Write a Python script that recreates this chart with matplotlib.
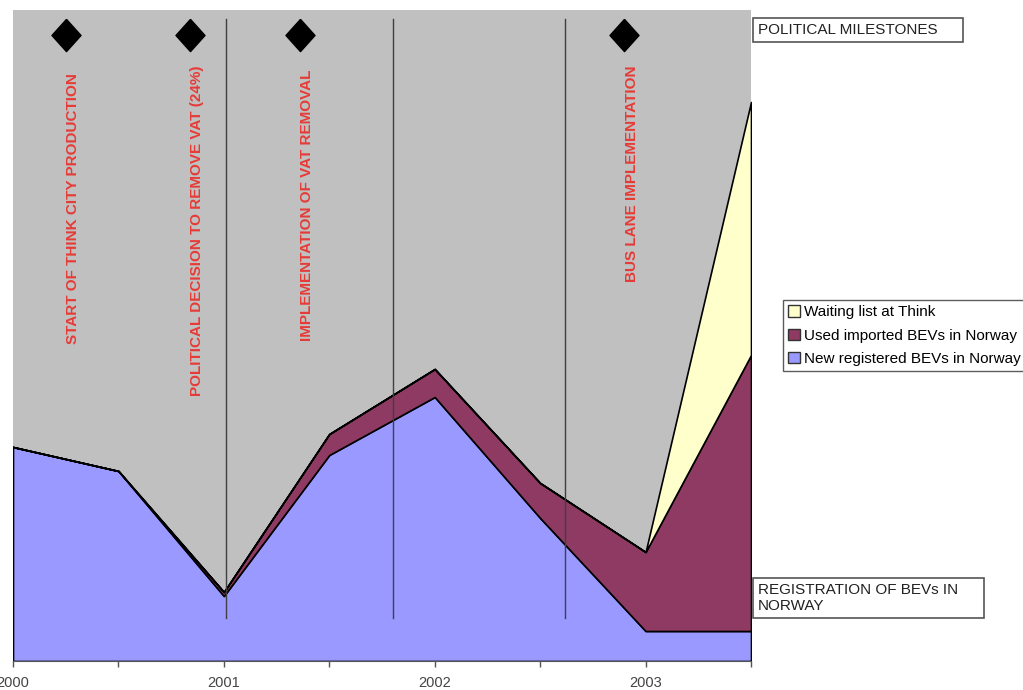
import matplotlib
matplotlib.use("Agg")
import matplotlib.pyplot as plt
from matplotlib.patches import Patch

plt.rcParams['font.family'] = ['Liberation Sans', 'DejaVu Sans']

# Half-year periods
periods = [2000.0, 2000.5, 2001.0, 2001.5, 2002.0, 2002.5, 2003.0, 2003.5]
tick_labels = ['2000', '', '2001', '', '2002', '', '2003', '']

# Stacked series (relative units)
new_registered = [214, 190, 65, 206, 264, 143, 30, 30]
used_imported = [0, 0, 4, 21, 28, 35, 79, 276]
waiting_list = [0, 0, 0, 0, 0, 0, 0, 253]

series_names = ['New registered BEVs in Norway', 'Used imported BEVs in Norway',
                'Waiting list at Think']
series_colors = ['#9999ff', '#8e3a62', '#ffffcc']

# Political milestones
milestone_dates = [2000.25, 2000.84, 2001.36, 2002.9]
milestone_labels = ['START OF THINK CITY PRODUCTION',
                    'POLITICAL DECISION TO REMOVE VAT (24%)',
                    'IMPLEMENTATION OF VAT REMOVAL',
                    'BUS LANE IMPLEMENTATION']
divider_dates = [2001.01, 2001.8, 2002.62]

fig = plt.figure(figsize=(10.23, 6.9), dpi=100)
ax = fig.add_axes([13 / 1023, 29 / 690, 738 / 1023, 651 / 690])
ax.set_facecolor('#c0c0c0')

ax.stackplot(periods, new_registered, used_imported, waiting_list,
             colors=series_colors, edgecolor='black', linewidth=1.2)

ax.set_xlim(periods[0], periods[-1])
ax.set_ylim(0, 651)

for d in divider_dates:
    ax.plot([d, d], [43, 642], color='#404040', lw=1, zorder=3)

diamond = [(0, 1), (0.9, 0), (0, -1), (-0.9, 0), (0, 1)]
ax.scatter(milestone_dates, [626] * len(milestone_dates), marker=diamond, s=540,
           color='black', zorder=4)
label_tops = [588, 596, 591, 596]
for d, lab, top in zip(milestone_dates, milestone_labels, label_tops):
    ax.text(d + 0.035, top, lab, rotation=90, ha='center', va='top',
            color='#e63b36', fontsize=11, fontweight='bold', zorder=4)

ax.set_xticks(periods)
ax.set_xticklabels(tick_labels, fontsize=10.5, color='#444444')
ax.tick_params(axis='x', direction='out', length=4, width=1, color='#555555', pad=6.5)
ax.set_yticks([])
for s in ['top', 'right', 'left']:
    ax.spines[s].set_visible(False)
ax.spines['bottom'].set_color('#555555')

box = dict(boxstyle='square,pad=0.3', facecolor='white', edgecolor='#555555', lw=1.2)
fig.text(758 / 1023, 1 - 30 / 690, 'POLITICAL MILESTONES     ', fontsize=11,
         va='center', ha='left', color='#222222', bbox=box)
fig.text(758 / 1023, 1 - 598 / 690, 'REGISTRATION OF BEVs IN     \nNORWAY', fontsize=11,
         va='center', ha='left', color='#222222', linespacing=1.25, bbox=box)

handles = [Patch(facecolor=c, edgecolor='#333333', label=n)
           for n, c in zip(series_names, series_colors)][::-1]
leg = fig.legend(handles=handles, loc='upper left', bbox_to_anchor=(783 / 1023, 1 - 300 / 690),
                 fontsize=11, frameon=True, fancybox=False, edgecolor='#333333',
                 handlelength=0.75, handleheight=0.75, handletextpad=0.25,
                 labelspacing=0.6, borderpad=0.35, borderaxespad=0)
leg.get_frame().set_linewidth(1)

fig.savefig('out.png', dpi=100)
